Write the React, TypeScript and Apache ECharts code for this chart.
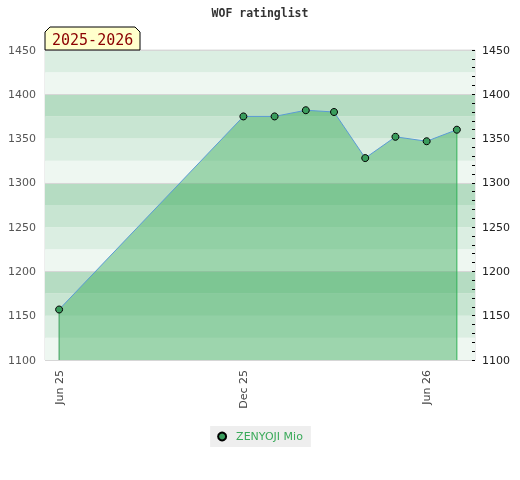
import React, { useEffect, useRef } from "react";
import * as echarts from "echarts";

const dates = [
  "2025-06-01",
  "2025-12-01",
  "2026-01-01",
  "2026-02-01",
  "2026-03-01",
  "2026-04-01",
  "2026-05-01",
  "2026-06-01",
  "2026-07-01",
];
const ratings = [1157, 1375, 1375, 1382, 1380, 1328, 1352, 1347, 1360];
const playerName = "ZENYOJI Mio";
const xTickDates = ["2025-06-01", "2025-12-01", "2026-06-01"];
const xTickLabels = ["Jun 25", "Dec 25", "Jun 26"];
const xMin = "2025-05-18";
const xMax = "2026-07-19";
const yMin = 1100;
const yMax = 1450;
const seasonLabel = "2025-2026";
const titleText = "WOF ratinglist";
const bandColors = ["#eef7f1", "#dbeee2", "#c8e5d2", "#b5dcc2"];

const ts = (s: string) => new Date(s + "T00:00:00").getTime();

export default function App() {
  const ref = useRef<HTMLDivElement>(null);
  useEffect(() => {
    if (!ref.current) return;
    const chart = echarts.init(ref.current, null, { renderer: "svg" });
    const tickTs = xTickDates.map(ts);
    const data = dates.map((d, i) => [ts(d), ratings[i]]);
    const first = data[0];
    const last = data[data.length - 1];
    const plain = (v: number) => String(v);
    const dropSeries = (pt: number[], color: string) => ({
      type: "line",
      data: [
        [pt[0], yMin],
        [pt[0], pt[1]],
      ],
      yAxisIndex: 0,
      silent: true,
      symbol: "none",
      lineStyle: { color, width: 1 },
      z: 2,
    });
    chart.setOption({
      animation: false,
      textStyle: { fontFamily: "DejaVu Sans" },
      title: {
        text: titleText,
        left: "center",
        top: 2,
        textStyle: {
          fontFamily: "DejaVu Sans Mono",
          fontWeight: "bold",
          fontSize: 11.5,
          color: "#333",
        },
      },
      grid: {
        left: 45,
        right: 45,
        top: 50,
        bottom: 120,
        show: true,
        borderColor: "#dddddd",
        borderWidth: 1,
        backgroundColor: "transparent",
      },
      legend: {
        left: "center",
        top: 426,
        backgroundColor: "#eeeeee",
        borderRadius: 0,
        padding: [5, 8, 5, 7],
        itemWidth: 8,
        itemHeight: 8,
        icon: "circle",
        textStyle: {
          color: "#3aaa5a",
          fontSize: 11,
          fontFamily: "DejaVu Sans",
          padding: [0, 0, 0, 5],
        },
        data: [playerName],
      },
      xAxis: {
        type: "value",
        min: ts(xMin),
        max: ts(xMax),
        axisLine: { show: false },
        axisTick: { show: false },
        splitLine: { show: false },
        axisLabel: {
          customValues: tickTs,
          rotate: 90,
          color: "#444",
          fontSize: 11,
          margin: 10,
          hideOverlap: false,
          formatter: (v: number) => {
            const idx = tickTs.findIndex((t) => Math.abs(t - v) < 86400000);
            return idx >= 0 ? xTickLabels[idx] : "";
          },
        },
      },
      yAxis: [
        {
          type: "value",
          position: "left",
          min: yMin,
          max: yMax,
          interval: 50,
          axisLine: { show: false },
          axisTick: { show: false },
          splitLine: { show: false },
          axisLabel: { color: "#555", fontSize: 11, margin: 9, formatter: plain },
        },
        {
          type: "value",
          position: "right",
          min: yMin,
          max: yMax,
          interval: 50,
          axisLine: { show: false },
          axisTick: { show: true, inside: true, length: 3, lineStyle: { color: "#000" } },
          minorTick: { show: true, splitNumber: 5, length: 3, lineStyle: { color: "#000" } },
          splitLine: { show: false },
          axisLabel: { color: "#222", fontSize: 11, margin: 7, formatter: plain },
        },
        {
          type: "value",
          position: "left",
          min: yMin,
          max: yMax,
          interval: 25,
          axisLine: { show: false },
          axisTick: { show: false },
          axisLabel: { show: false },
          splitLine: { show: false },
          splitArea: { show: true, areaStyle: { color: bandColors } },
        },
        {
          type: "value",
          position: "left",
          min: yMin,
          max: yMax,
          interval: 100,
          axisLine: { show: false },
          axisTick: { show: false },
          axisLabel: { show: false },
          splitLine: { show: true, lineStyle: { color: "#d6d6d6", width: 1 } },
        },
      ],
      series: [
        dropSeries(first, "#3a9a5a"),
        dropSeries(last, "#2fb457"),
        {
          name: playerName,
          type: "line",
          data,
          yAxisIndex: 0,
          symbol: "circle",
          symbolSize: 7,
          itemStyle: { color: "#3a9d5d", borderColor: "#000", borderWidth: 1 },
          lineStyle: { color: "#5b9bd5", width: 1 },
          areaStyle: { color: "#3aaa5a", opacity: 0.45, origin: "start" },
          z: 3,
        },
      ],
      graphic: [
        {
          type: "polygon",
          shape: {
            points: [
              [45, 50],
              [45, 32],
              [50, 27],
              [135, 27],
              [140, 32],
              [140, 50],
            ],
          },
          style: { fill: "#ffffcc", stroke: "#000", lineWidth: 1 },
          z: 10,
        },
        {
          type: "text",
          x: 52,
          y: 40,
          style: {
            text: seasonLabel,
            font: "15px 'DejaVu Sans Mono'",
            fill: "#8b0000",
            verticalAlign: "middle",
          },
          z: 11,
        },
      ],
    });
    return () => chart.dispose();
  }, []);
  return (
    <div
      ref={ref}
      style={{ position: "fixed", left: 0, top: 0, width: 520, height: 480 }}
    />
  );
}
